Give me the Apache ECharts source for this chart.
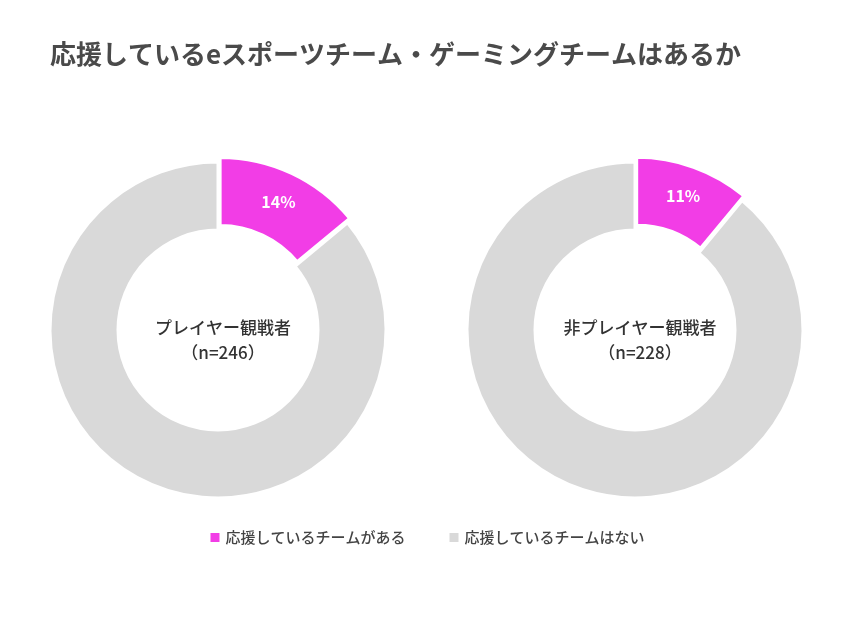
<!DOCTYPE html>
<html><head><meta charset="utf-8">
<script src="https://cdn.jsdelivr.net/npm/echarts@6/dist/echarts.min.js"></script>
<style>body{margin:0}#c{width:853px;height:640px}</style></head>
<body><div id="c"></div>
<script>
const categories = ['応援しているチームがある', '応援しているチームはない'];
const groups = ['プレイヤー観戦者\n（n=246）', '非プレイヤー観戦者\n（n=228）'];
const playerValues = [14, 86];
const nonPlayerValues = [11, 89];
const colors = ['#f23de6', '#d9d9d9'];
const font = '"Noto Sans CJK JP", sans-serif';
function mk(vals, cx, name) {
  return {
    type: 'pie', name: name, radius: [100, 168], center: [cx, 330],
    startAngle: 90, selectedMode: 'multiple', selectedOffset: 5,
    itemStyle: { borderColor: '#fff', borderWidth: 3 },
    label: { show: false }, emphasis: { disabled: true },
    data: vals.map((v, i) => ({
      name: categories[i], value: v, selected: i === 0,
      itemStyle: { color: colors[i] },
      label: i === 0 ? { show: true, position: 'inside', formatter: '{c}%', color: '#fff', fontSize: 16, fontWeight: 'bold', fontFamily: font } : { show: false }
    }))
  };
}
const chart = echarts.init(document.getElementById('c'));
chart.setOption({
  animation: false,
  title: [
    { text: '応援しているeスポーツチーム・ゲーミングチームはあるか', left: 45, top: 36, textStyle: { fontSize: 26, fontWeight: 'bold', color: '#4a4a4a', fontFamily: font } },
    { text: groups[0], left: 218, top: 310, textAlign: 'center', textStyle: { fontSize: 17, fontWeight: 500, color: '#333', lineHeight: 25, fontFamily: font } },
    { text: groups[1], left: 635, top: 310, textAlign: 'center', textStyle: { fontSize: 17, fontWeight: 500, color: '#333', lineHeight: 25, fontFamily: font } }
  ],
  legend: { bottom: 90, left: 'center', itemWidth: 11, itemHeight: 11, icon: 'rect', itemGap: 42, selectedMode: false,
    textStyle: { fontSize: 15, fontWeight: 500, color: '#444', fontFamily: font }, data: categories },
  series: [mk(playerValues, 218, 'player'), mk(nonPlayerValues, 635, 'nonplayer')]
});
</script></body></html>
